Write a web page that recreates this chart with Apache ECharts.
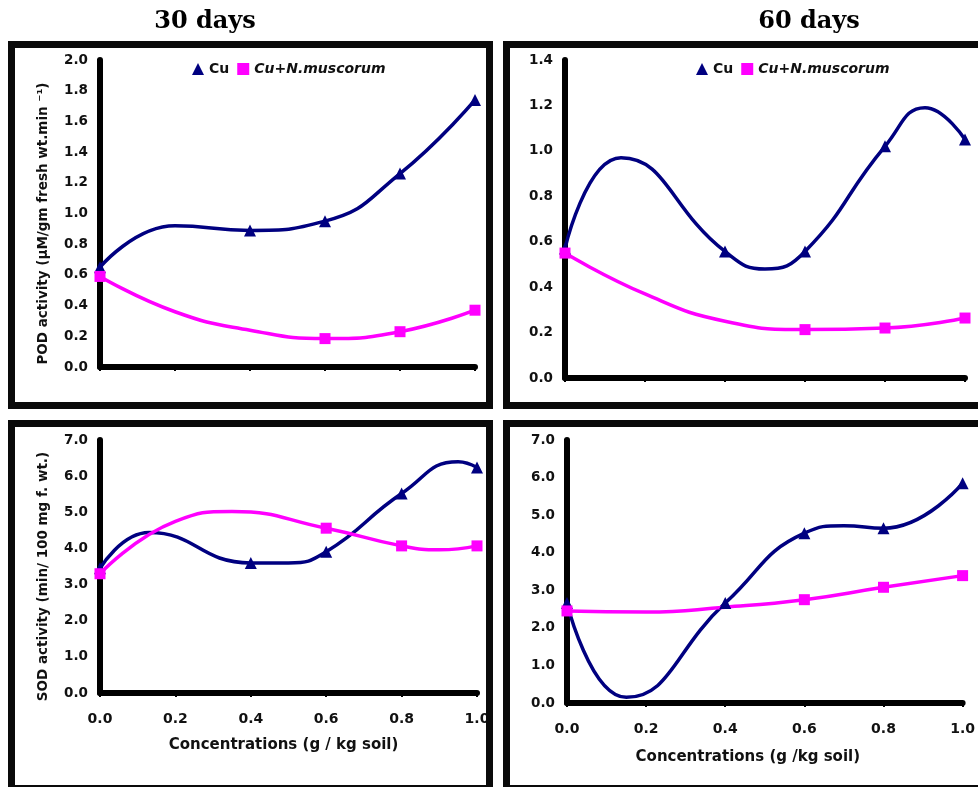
<!DOCTYPE html>
<html>
<head>
<meta charset="utf-8">
<script src="https://cdn.jsdelivr.net/npm/echarts@6/dist/echarts.min.js"></script>
<style>
html, body { margin: 0; padding: 0; background: #fff; }
#chart { width: 978px; height: 787px; }
</style>
</head>
<body>
<div id="chart"></div>
<script>
// points are [concentration (g/kg soil), activity, marker shown (1) or curve-only (0)]
let pod30Cu = [[0, 0.65, 1], [0.2, 0.92, 0], [0.4, 0.89, 1], [0.6, 0.95, 1], [0.8, 1.26, 1], [1.0, 1.74, 1]];
let pod30CuNm = [[0, 0.59, 1], [0.2, 0.36, 0], [0.4, 0.24, 0], [0.6, 0.185, 1], [0.8, 0.23, 1], [1.0, 0.37, 1]];

let pod60Cu = [[0, 0.57, 1], [0.14, 0.97, 0], [0.4, 0.557, 1], [0.5, 0.48, 0], [0.6, 0.557, 1], [0.8, 1.02, 1], [0.9, 1.19, 0], [1.0, 1.05, 1]];
let pod60CuNm = [[0, 0.55, 1], [0.2, 0.37, 0], [0.4, 0.25, 0], [0.6, 0.213, 1], [0.8, 0.22, 1], [1.0, 0.264, 1]];

let sod30Cu = [[0, 3.45, 1], [0.13, 4.44, 0], [0.4, 3.6, 1], [0.5, 3.6, 0], [0.6, 3.91, 1], [0.8, 5.52, 1], [0.95, 6.4, 0], [1.0, 6.24, 1]];
let sod30CuNm = [[0, 3.3, 1], [0.2, 4.75, 0], [0.35, 5.02, 0], [0.6, 4.56, 1], [0.8, 4.07, 1], [0.9, 3.96, 0], [1.0, 4.07, 1]];

let sod60Cu = [[0, 2.66, 1], [0.15, 0.15, 0], [0.4, 2.66, 1], [0.6, 4.52, 1], [0.7, 4.72, 0], [0.8, 4.65, 1], [1.0, 5.85, 1]];
let sod60CuNm = [[0, 2.45, 1], [0.2, 2.42, 0], [0.4, 2.55, 0], [0.6, 2.75, 1], [0.8, 3.08, 1], [1.0, 3.39, 1]];

let periods = ['30 days', '60 days'];
let seriesNames = ['Cu', 'Cu+N.muscorum'];
let xTitles = ['Concentrations (g / kg soil)', 'Concentrations (g /kg soil)'];
let podTitle = 'POD activity (µM/gm fresh wt.min ⁻¹)';
let sodTitle = 'SOD activity (min/ 100 mg f. wt.)';

const FONT = 'DejaVu Sans';
const NAVY = '#000080';
const PINK = '#ff00ff';
const INK = '#111';

let chart = echarts.init(document.getElementById('chart'));

function lineSeries(name, points, idx, symbol, size, color) {
    return {
        name: name,
        type: 'line',
        xAxisIndex: idx,
        yAxisIndex: idx,
        smooth: 0.5,
        color: color,
        symbol: symbol,
        symbolSize: size,
        showSymbol: true,
        lineStyle: { width: 3.5, color: color },
        itemStyle: { color: color },
        data: points.map(p => ({ value: [p[0], p[1]], symbol: p[2] ? symbol : 'none' })),
        animation: false
    };
}

function xAxis(idx, showLabels, name, namePadRight, nameGap) {
    return {
        gridIndex: idx,
        type: 'value',
        min: 0, max: 1, interval: 0.2,
        axisLine: { show: true, onZero: false, lineStyle: { color: '#000', width: 6 } },
        axisTick: { show: true, length: 4, lineStyle: { color: '#000', width: 2 } },
        axisLabel: {
            show: showLabels, margin: 19,
            formatter: v => v.toFixed(1),
            fontFamily: FONT, fontWeight: 'bold', fontSize: 14, color: INK
        },
        splitLine: { show: false },
        name: name,
        nameLocation: 'middle',
        nameGap: nameGap,
        nameTextStyle: {
            fontFamily: FONT, fontWeight: 'bold', fontSize: 15, color: INK,
            padding: [0, namePadRight, 0, 0]
        }
    };
}

function yAxis(idx, max, interval, name) {
    return {
        gridIndex: idx,
        type: 'value',
        min: 0, max: max, interval: interval,
        axisLine: { show: true, lineStyle: { color: '#000', width: 6 } },
        axisTick: { show: true, length: 3, lineStyle: { color: '#000', width: 2 } },
        axisLabel: {
            margin: 12,
            formatter: v => v.toFixed(1),
            fontFamily: FONT, fontWeight: 'bold', fontSize: 13.5, color: INK
        },
        splitLine: { show: false },
        name: name,
        nameLocation: 'middle',
        nameRotate: 90,
        nameGap: 50,
        nameTextStyle: {
            fontFamily: FONT, fontWeight: 'bold', fontSize: 13.5, color: INK,
            padding: [0, 20, 0, 0]
        }
    };
}

function legend(left) {
    return {
        left: left, top: 57,
        itemWidth: 12, itemHeight: 12, itemGap: 8,
        selectedMode: false,
        textStyle: { fontFamily: FONT, fontWeight: 'bold', fontSize: 14, color: INK },
        data: [
            { name: seriesNames[0], icon: 'triangle' },
            { name: seriesNames[1], icon: 'rect', textStyle: { fontStyle: 'italic' } }
        ]
    };
}

function frame(x, y, w, h) {
    return {
        type: 'rect', z: 100, silent: true,
        shape: { x: x, y: y, width: w, height: h },
        style: { fill: 'none', stroke: '#0a0a0a', lineWidth: 7 }
    };
}

function heading(text, x) {
    return {
        type: 'text', z: 100, x: x, y: 22,
        style: {
            text: text, align: 'center', verticalAlign: 'middle',
            font: 'bold 24px "DejaVu Serif"', fill: '#000'
        }
    };
}

let option = {
    backgroundColor: '#fff',
    animation: false,
    grid: [
        { left: 100, top: 60, width: 375, height: 307 },
        { left: 565, top: 60, width: 400, height: 318 },
        { left: 100, top: 440, width: 377, height: 253 },
        { left: 567, top: 440, width: 406, height: 263 }
    ],
    legend: [legend(187), legend(691)],
    xAxis: [
        xAxis(0, false, '', 0, 0),
        xAxis(1, false, '', 0, 0),
        xAxis(2, true, xTitles[0], 10, 45),
        xAxis(3, true, xTitles[1], 34, 47)
    ],
    yAxis: [
        yAxis(0, 2.0, 0.2, podTitle),
        yAxis(1, 1.4, 0.2, ''),
        yAxis(2, 7, 1, sodTitle),
        yAxis(3, 7, 1, '')
    ],
    series: [
        lineSeries(seriesNames[0], pod30Cu, 0, 'triangle', 12, NAVY),
        lineSeries(seriesNames[1], pod30CuNm, 0, 'rect', 11, PINK),
        lineSeries(seriesNames[0], pod60Cu, 1, 'triangle', 12, NAVY),
        lineSeries(seriesNames[1], pod60CuNm, 1, 'rect', 11, PINK),
        lineSeries(seriesNames[0], sod30Cu, 2, 'triangle', 12, NAVY),
        lineSeries(seriesNames[1], sod30CuNm, 2, 'rect', 11, PINK),
        lineSeries(seriesNames[0], sod60Cu, 3, 'triangle', 12, NAVY),
        lineSeries(seriesNames[1], sod60CuNm, 3, 'rect', 11, PINK)
    ],
    graphic: [
        heading(periods[0], 205),
        heading(periods[1], 809),
        frame(11.5, 44.5, 478, 361),
        frame(506.5, 44.5, 500, 361),
        frame(11.5, 423.5, 478, 365),
        frame(506.5, 423.5, 500, 365)
    ]
};

chart.setOption(option);
</script>
</body>
</html>
